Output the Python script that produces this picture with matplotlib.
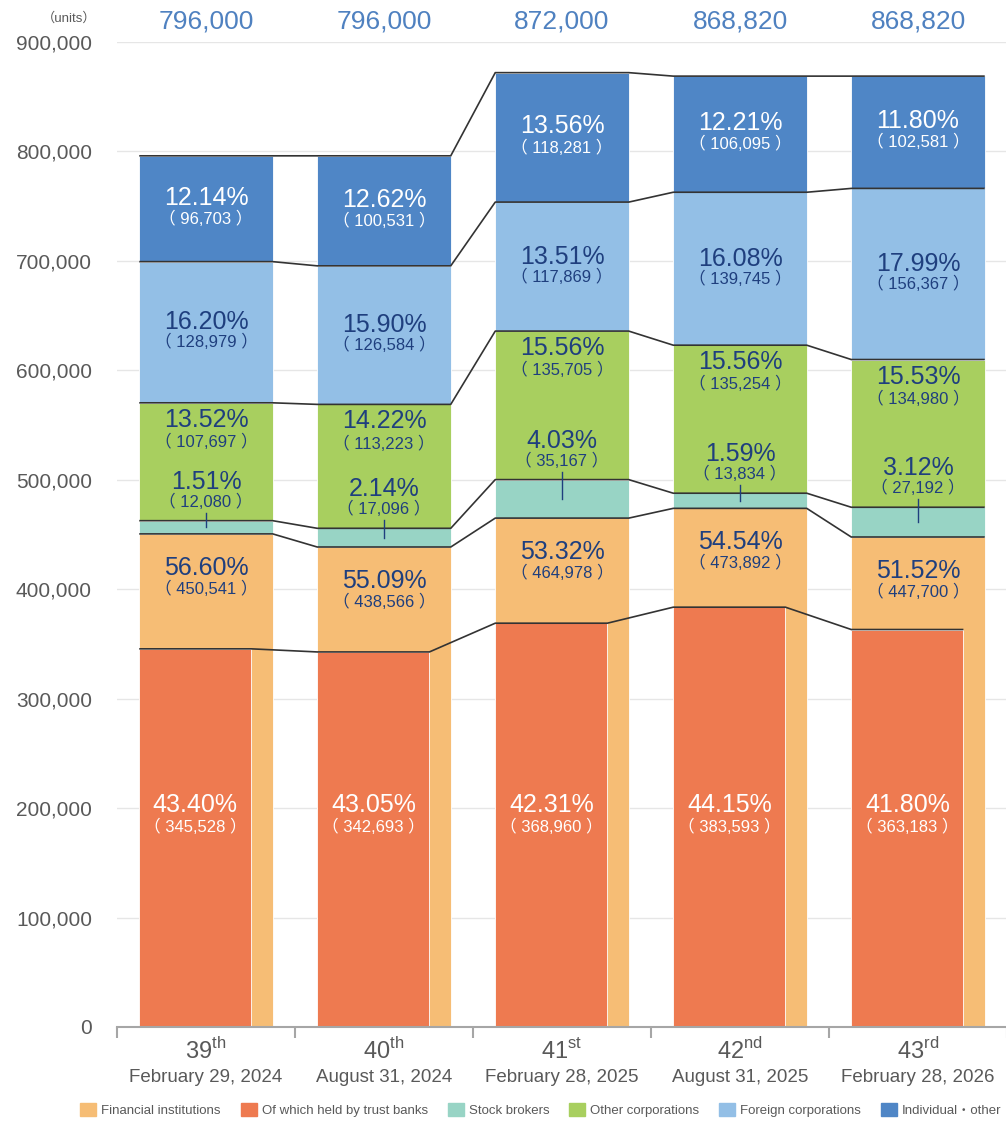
import matplotlib
matplotlib.use("Agg")
import matplotlib.pyplot as plt
import matplotlib.transforms as mtransforms
from matplotlib.patches import Patch
import numpy as np

plt.rcParams['font.family'] = ['Liberation Sans', 'Noto Sans CJK JP', 'DejaVu Sans']
plt.rcParams['mathtext.fontset'] = 'custom'
plt.rcParams['mathtext.rm'] = 'Liberation Sans'

# fiscal periods
periods = ["39", "40", "41", "42", "43"]
suffixes = ["th", "th", "st", "nd", "rd"]
dates = ["February 29, 2024", "August 31, 2024", "February 28, 2025",
         "August 31, 2025", "February 28, 2026"]
totals = [796000, 796000, 872000, 868820, 868820]

# units held by each category
financial = [450541, 438566, 464978, 473892, 447700]
trust = [345528, 342693, 368960, 383593, 363183]
stock = [12080, 17096, 35167, 13834, 27192]
other = [107697, 113223, 135705, 135254, 134980]
foreign = [128979, 126584, 117869, 139745, 156367]
individual = [96703, 100531, 118281, 106095, 102581]

# shares of total (%)
financial_pct = [56.60, 55.09, 53.32, 54.54, 51.52]
trust_pct = [43.40, 43.05, 42.31, 44.15, 41.80]
stock_pct = [1.51, 2.14, 4.03, 1.59, 3.12]
other_pct = [13.52, 14.22, 15.56, 15.56, 15.53]
foreign_pct = [16.20, 15.90, 13.51, 16.08, 17.99]
individual_pct = [12.14, 12.62, 13.56, 12.21, 11.80]

legend_labels = ["Financial institutions", "Of which held by trust banks", "Stock brokers",
                 "Other corporations", "Foreign corporations", "Individual\u30fbother"]

c_fin = "#F6BD75"
c_trust = "#EE7A50"
c_stock = "#98D4C5"
c_other = "#A8CF5F"
c_foreign = "#93BFE6"
c_indiv = "#4F86C6"
navy = "#1F3F7E"
gray = "#595959"

fig = plt.figure(figsize=(10.06, 11.21), dpi=100)
ax = fig.add_axes([117 / 1006, 94 / 1121, 890 / 1006, 985 / 1121])

x = np.arange(len(periods))
w = 0.75
tw = 0.63
fin = np.array(financial)
st = np.array(stock)
ot = np.array(other)
fo = np.array(foreign)
ind = np.array(individual)

b_stock = fin
b_other = b_stock + st
b_foreign = b_other + ot
b_indiv = b_foreign + fo
top = b_indiv + ind

ec = dict(edgecolor="white", linewidth=0.6, zorder=2)
ax.bar(x, fin, w, color=c_fin, **ec)
ax.bar(x - w / 2, trust, tw, align="edge", color=c_trust, **ec)
ax.bar(x, st, w, bottom=b_stock, color=c_stock, **ec)
ax.bar(x, ot, w, bottom=b_other, color=c_other, **ec)
ax.bar(x, fo, w, bottom=b_foreign, color=c_foreign, **ec)
ax.bar(x, ind, w, bottom=b_indiv, color=c_indiv, **ec)

# boundary lines running across bars and linking neighbours
def boundary(vals, left, right):
    xs, ys = [], []
    for i, v in enumerate(vals):
        xs += [i + left, i + right]
        ys += [v, v]
    ax.plot(xs, ys, color="#333333", lw=1.2, zorder=3, solid_capstyle="butt")

boundary(trust, -w / 2, -w / 2 + tw)
for b in (b_stock, b_other, b_foreign, b_indiv, top):
    boundary(b, -w / 2, w / 2)

px = 900000 / 985  # data units per pixel

def lab(xi, y, pct, val, color, dy_top, dy_bot):
    ax.text(xi, y + dy_top * px, f"{pct:.2f}%", ha="center", va="center",
            fontsize=18, color=color, zorder=4)
    ax.text(xi, y + dy_bot * px, f"\uff08 {val:,} \uff09", ha="center", va="center",
            fontsize=12, color=color, zorder=4)

for i in range(len(periods)):
    c_ind = b_indiv[i] + ind[i] / 2
    lab(i, c_ind, individual_pct[i], individual[i], "white", 11, -10)
    c_fo = b_foreign[i] + fo[i] / 2
    lab(i, c_fo, foreign_pct[i], foreign[i], navy, 10, -10)
    lab(i, b_foreign[i], other_pct[i], other[i], navy, -17, -39)
    lab(i, b_other[i], stock_pct[i], stock[i], navy, 39, 19)
    ax.plot([i, i], [b_other[i] + 8 * px, b_stock[i] + st[i] / 2],
            color=navy, lw=1, zorder=4)
    lab(i, b_stock[i], financial_pct[i], financial[i], navy, -34, -55)
    lab(i - (w - tw) / 2, 194000, trust_pct[i], trust[i], "white", 10, -12)

# totals above each bar
tr = mtransforms.blended_transform_factory(ax.transData, ax.transAxes)
for i, t in enumerate(totals):
    ax.text(i, 1 + 21 / 985, f"{t:,}", transform=tr, ha="center", va="center",
            fontsize=19, color="#4F81C0", clip_on=False)

# period labels under the axis
for i in range(len(periods)):
    ax.text(i, -24 / 985, periods[i] + r"$^{\mathrm{" + suffixes[i] + "}}$",
            transform=tr, ha="center", va="center", fontsize=17, color=gray)
    ax.text(i, -50 / 985, dates[i], transform=tr, ha="center", va="center",
            fontsize=13.5, color=gray)

ax.set_xlim(-0.5, 4.5)
ax.set_ylim(0, 900000)
ax.set_yticks(np.arange(0, 900001, 100000))
ax.yaxis.set_major_formatter(matplotlib.ticker.FuncFormatter(lambda v, p: f"{int(v):,}"))
ax.tick_params(axis="y", length=0, pad=18, labelsize=15, labelcolor=gray)
ax.set_xticks(np.arange(-0.5, 4.6, 1))
ax.set_xticklabels([])
ax.tick_params(axis="x", length=8, width=1.5, color="#A6A6A6", direction="out")
ax.grid(axis="y", color="#E6E6E6", lw=1, zorder=0)
ax.set_axisbelow(True)
for s in ("top", "right", "left"):
    ax.spines[s].set_visible(False)
ax.spines["bottom"].set_color("#A6A6A6")
ax.spines["bottom"].set_linewidth(1.5)
ax.spines["bottom"].set_zorder(5)

fig.text(96 / 1006, 1 - 18 / 1121, "\uff08units\uff09", ha="right", va="center",
         fontsize=9.5, color=gray)

handles = [Patch(color=c) for c in (c_fin, c_trust, c_stock, c_other, c_foreign, c_indiv)]
fig.legend(handles, legend_labels, loc="center", bbox_to_anchor=(541 / 1006, 11 / 1121),
           ncol=6, frameon=False, fontsize=9.5, handlelength=1.2, handleheight=1.2,
           handletextpad=0.4, columnspacing=1.5, labelcolor=gray, borderpad=0)

fig.savefig("out.png", dpi=100)
